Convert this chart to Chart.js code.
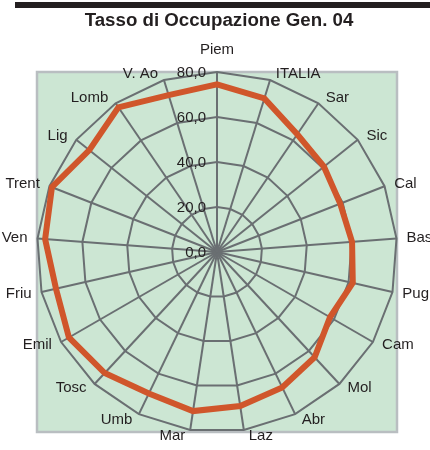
<!DOCTYPE html>
<html>
<head>
<meta charset="utf-8">
<script src="https://cdn.jsdelivr.net/npm/chart.js@4.4.1/dist/chart.umd.min.js"></script>
<style>
  html, body { margin: 0; padding: 0; background: #fff; }
  #wrap { width: 430px; height: 450px; position: relative; }
</style>
</head>
<body>
<div id="wrap"><canvas id="radar" width="430" height="450"></canvas></div>
<script>
const chartTitle = 'Tasso di Occupazione Gen. 04';
const regions = ['Piem', 'ITALIA', 'Sar', 'Sic', 'Cal', 'Bas', 'Pug', 'Cam', 'Mol', 'Abr', 'Laz',
  'Mar', 'Umb', 'Tosc', 'Emil', 'Friu', 'Ven', 'Trent', 'Lig', 'Lomb', 'V. Ao'];
const occupazione = [74.5, 71.4, 63.3, 60.8, 58.8, 60.2, 61.9, 58.0, 63.8, 66.8, 69.2,
  71.5, 69.8, 73.4, 76.0, 73.4, 76.6, 78.8, 72.6, 77.8, 73.0];
const tickValues = [0, 20, 40, 60, 80];
const tickLabels = ['0,0', '20,0', '40,0', '60,0', '80,0'];

const FONT = '"Liberation Sans", Arial, sans-serif';
const TEXT = '#231f20';

// background square, top bar, title, tick and point labels
const decor = {
  id: 'decor',
  beforeDraw(chart) {
    const ctx = chart.ctx;
    const s = chart.scales.r;
    const R = s.drawingArea;
    ctx.save();
    // black bar on top
    ctx.fillStyle = '#231f20';
    ctx.fillRect(15, 2, 415, 6);
    // title
    ctx.fillStyle = TEXT;
    ctx.font = 'bold 18.7px ' + FONT;
    ctx.textAlign = 'center';
    ctx.textBaseline = 'middle';
    ctx.fillText(chartTitle, 219, 21);
    // plot area
    ctx.fillStyle = '#cce6d3';
    ctx.fillRect(s.xCenter - R, s.yCenter - R, 2 * R, 2 * R);
    ctx.strokeStyle = '#b9bec1';
    ctx.lineWidth = 2.5;
    ctx.strokeRect(s.xCenter - R, s.yCenter - R, 2 * R, 2 * R);
    ctx.restore();
  },
  afterDraw(chart) {
    const ctx = chart.ctx;
    const s = chart.scales.r;
    ctx.save();
    ctx.fillStyle = TEXT;
    ctx.font = '15px ' + FONT;
    // tick labels left of the vertical axis
    ctx.textAlign = 'right';
    ctx.textBaseline = 'middle';
    tickValues.forEach((v, i) => {
      const d = s.getDistanceFromCenterForValue(v);
      ctx.fillText(tickLabels[i], s.xCenter - 11, s.yCenter - d + 1);
    });
    // category labels
    regions.forEach((lab, i) => {
      if (i === 0) {
        const p = s.getPointPosition(0, s.drawingArea + 22);
        ctx.textAlign = 'center';
        ctx.fillText(lab, p.x, p.y);
        return;
      }
      const p = s.getPointPosition(i, s.drawingArea + 6);
      const right = p.x > s.xCenter;
      ctx.textAlign = right ? 'left' : 'right';
      ctx.fillText(lab, p.x + (right ? 4 : -4), p.y);
    });
    ctx.restore();
  }
};

new Chart(document.getElementById('radar').getContext('2d'), {
  type: 'radar',
  data: {
    labels: regions,
    datasets: [{
      label: chartTitle,
      data: occupazione,
      borderColor: '#d0562b',
      backgroundColor: 'rgba(0,0,0,0)',
      borderWidth: 6,
      pointRadius: 0,
      fill: false,
      tension: 0
    }]
  },
  options: {
    responsive: false,
    animation: false,
    devicePixelRatio: 1,
    layout: { padding: { left: 37, right: 33, top: 72, bottom: 18 } },
    plugins: {
      legend: { display: false },
      title: { display: false },
      tooltip: { enabled: false }
    },
    scales: {
      r: {
        min: 0,
        max: 80,
        startAngle: 0,
        ticks: { display: false, stepSize: 20 },
        pointLabels: { display: false },
        grid: { color: '#6a6f72', lineWidth: 2 },
        angleLines: { color: '#6a6f72', lineWidth: 2 }
      }
    }
  },
  plugins: [decor]
});
</script>
</body>
</html>
